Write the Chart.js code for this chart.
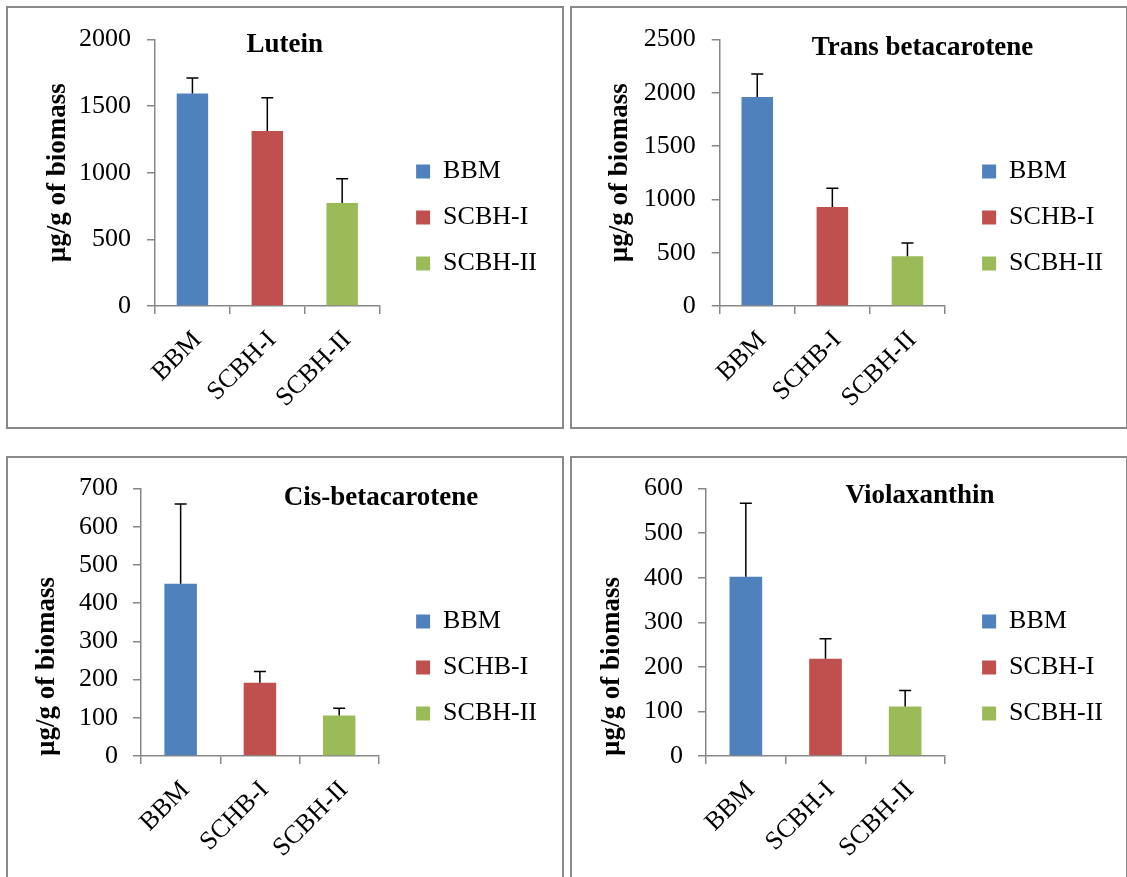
<!DOCTYPE html>
<html>
<head>
<meta charset="utf-8">
<script src="https://cdn.jsdelivr.net/npm/chart.js@4.4.1/dist/chart.umd.min.js"></script>
<style>
  body { margin: 0; background: #fff; overflow: hidden; }
  .panel { position: absolute; border: 2px solid #898989; background: #fff; }
  .panel canvas { display: block; }
</style>
</head>
<body>
<div class="panel" style="left:6px; top:6px; width:554px; height:419px;"><canvas id="c1" width="554" height="419"></canvas></div>
<div class="panel" style="left:570px; top:6px; width:554px; height:419px;"><canvas id="c2" width="554" height="419"></canvas></div>
<div class="panel" style="left:6px; top:456px; width:554px; height:419px;"><canvas id="c3" width="554" height="419"></canvas></div>
<div class="panel" style="left:570px; top:456px; width:554px; height:419px;"><canvas id="c4" width="554" height="419"></canvas></div>
<script>
// values (upper error bar = mean + sd)
const luteinLabels = ["BBM", "SCBH-I", "SCBH-II"];
const luteinValues = [1595, 1313, 773];
const luteinErrors = [117, 251, 183];

const transLabels = ["BBM", "SCHB-I", "SCBH-II"];
const transValues = [1961, 930, 468];
const transErrors = [216, 175, 123];

const cisLabels = ["BBM", "SCHB-I", "SCBH-II"];
const cisValues = [451, 192, 106];
const cisErrors = [209, 29, 19];

const violaLabels = ["BBM", "SCBH-I", "SCBH-II"];
const violaValues = [402, 218, 111];
const violaErrors = [165, 45, 36];

const yMaxes = [2000, 2500, 700, 600];
const ySteps = [500, 500, 100, 100];
const titles = ["Lutein", "Trans betacarotene", "Cis-betacarotene", "Violaxanthin"];
const yTitle = "µg/g of biomass";

const barColors = ["#4F81BD", "#C0504D", "#9BBB59"];
const axisGray = "#878787";
const serif = "'Liberation Serif', 'Times New Roman', serif";

Chart.defaults.font.family = serif;
Chart.defaults.color = "#000";

const errorBars = {
    id: "errorBars",
    afterDatasetsDraw(chart) {
        let ctx = chart.ctx;
        let y = chart.scales.y;
        let ds = chart.data.datasets[0];
        chart.getDatasetMeta(0).data.forEach((bar, i) => {
            let top = y.getPixelForValue(ds.data[i] + ds.errors[i]);
            ctx.save();
            ctx.strokeStyle = "#000";
            ctx.lineWidth = 1.5;
            ctx.beginPath();
            ctx.moveTo(bar.x, bar.y);
            ctx.lineTo(bar.x, top);
            ctx.moveTo(bar.x - 6, top);
            ctx.lineTo(bar.x + 6, top);
            ctx.stroke();
            ctx.restore();
        });
    }
};

// Excel-style title sitting inside the plot
const panelTitle = {
    id: "panelTitle",
    afterDraw(chart, args, opts) {
        let ctx = chart.ctx;
        ctx.save();
        ctx.font = "bold 27px " + serif;
        ctx.fillStyle = "#000";
        ctx.textAlign = "center";
        ctx.textBaseline = "alphabetic";
        ctx.fillText(opts.text, opts.x, opts.y);
        ctx.restore();
    }
};

function makeChart(id, labels, values, errors, n, cfg) {
    return new Chart(document.getElementById(id), {
        type: "bar",
        data: {
            labels: labels,
            datasets: [{
                data: values,
                errors: errors,
                backgroundColor: barColors,
                borderWidth: 0,
                barPercentage: cfg.barPct,
                categoryPercentage: 1,
                xAxisID: "x",
                yAxisID: "y"
            }]
        },
        options: {
            responsive: false,
            animation: false,
            events: [],
            layout: { padding: { left: 0, right: cfg.padRight, top: 0, bottom: 0 } },
            plugins: {
                tooltip: { enabled: false },
                legend: {
                    position: "right",
                    maxWidth: 300,
                    labels: {
                        boxWidth: 14,
                        boxHeight: 14,
                        padding: 20,
                        color: "#000",
                        font: { size: 26 },
                        generateLabels: chart => chart.data.labels.map((text, i) => ({
                            text: text,
                            fillStyle: barColors[i],
                            strokeStyle: barColors[i],
                            lineWidth: 0,
                            hidden: false,
                            index: i,
                            datasetIndex: 0
                        }))
                    }
                },
                panelTitle: { text: titles[n], x: cfg.titleX, y: cfg.titleY }
            },
            scales: {
                x: {
                    type: "category",
                    position: "bottom",
                    grid: { drawOnChartArea: false, tickLength: 8, color: axisGray, lineWidth: 1.5, offset: true },
                    border: { color: axisGray, width: 1.5 },
                    ticks: { font: { size: 26 }, color: "#000", minRotation: 45, maxRotation: 45, padding: 11, labelOffset: 5, autoSkip: false },
                    afterFit: s => { s.height = 419 - 298; }
                },
                xTop: {
                    type: "category",
                    axis: "x",
                    position: "top",
                    grid: { display: false },
                    ticks: { display: false },
                    border: { display: false },
                    afterFit: s => { s.height = cfg.top; }
                },
                y: {
                    min: 0,
                    max: yMaxes[n],
                    ticks: {
                        stepSize: ySteps[n],
                        font: { size: 26 },
                        color: "#000",
                        padding: cfg.tickPad,
                        callback: v => String(v)
                    },
                    grid: { drawOnChartArea: false, tickLength: 8, color: axisGray, lineWidth: 1.5 },
                    border: { color: axisGray, width: 1.5 },
                    title: {
                        display: true,
                        text: yTitle,
                        color: "#000",
                        font: { size: 27, weight: "bold" },
                        align: cfg.yTitleAlign,
                        padding: { top: cfg.yTitlePad, bottom: 0 }
                    },
                    afterFit: s => { s.width = cfg.left; }
                },
                yRight: {
                    type: "linear",
                    axis: "y",
                    position: "right",
                    grid: { display: false },
                    ticks: { display: false },
                    border: { display: false },
                    afterFit: s => {
                        let lw = (s.chart.legend && s.chart.legend.width) || 151;
                        s.width = Math.max(0, s.chart.width - cfg.padRight - lw - cfg.right);
                    }
                }
            }
        },
        plugins: [errorBars, panelTitle]
    });
}

makeChart("c1", luteinLabels, luteinValues, luteinErrors, 0,
    { left: 147, right: 371.6, top: 27, titleX: 276.7, titleY: 44.3, tickPad: 16, yTitlePad: 34, yTitleAlign: "center", barPct: 0.42, padRight: 15 });
makeChart("c2", transLabels, transValues, transErrors, 1,
    { left: 147.7, right: 373, top: 27, titleX: 350.5, titleY: 47, tickPad: 16, yTitlePad: 32, yTitleAlign: "center", barPct: 0.42, padRight: 13 });
makeChart("c3", cisLabels, cisValues, cisErrors, 2,
    { left: 133, right: 370.8, top: 27.7, titleX: 373, titleY: 47, tickPad: 15, yTitlePad: 22.5, yTitleAlign: "start", barPct: 0.41, padRight: 15 });
makeChart("c4", violaLabels, violaValues, violaErrors, 3,
    { left: 134, right: 373, top: 27.7, titleX: 348, titleY: 45.3, tickPad: 15, yTitlePad: 23.5, yTitleAlign: "start", barPct: 0.41, padRight: 13 });
</script>
</body>
</html>
